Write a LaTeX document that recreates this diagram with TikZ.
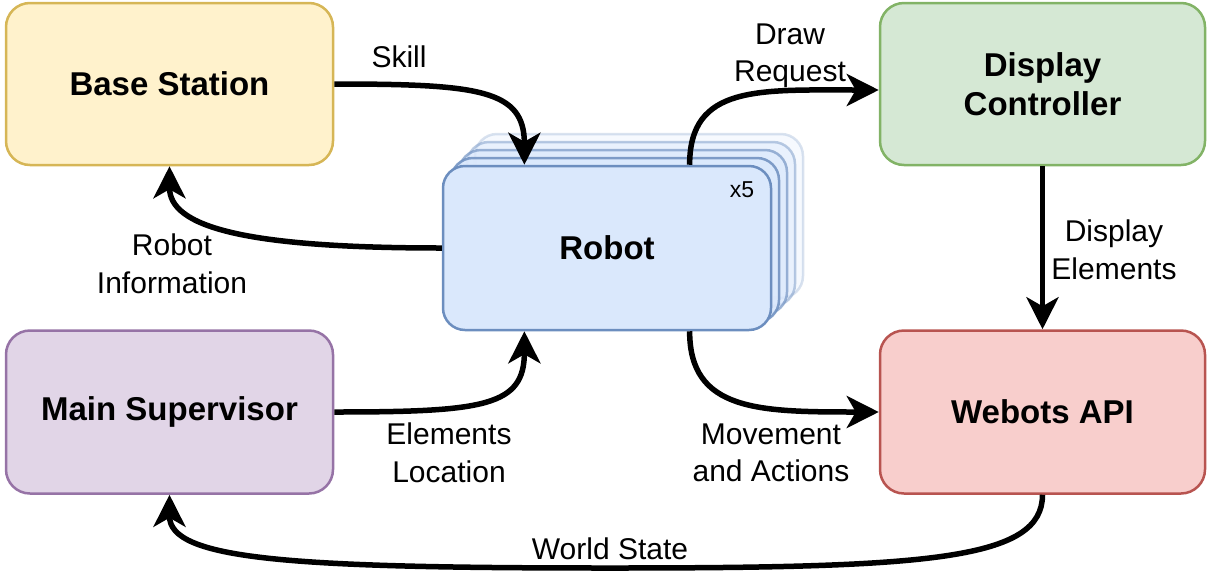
\documentclass[tikz,border=0pt]{standalone}
\usepackage{fontspec}
\setmainfont{Liberation Sans}
\usetikzlibrary{arrows.meta,calc}

\definecolor{bsfill}{HTML}{FFF2CC}\definecolor{bsline}{HTML}{D6B656}
\definecolor{dcfill}{HTML}{D5E8D4}\definecolor{dcline}{HTML}{82B366}
\definecolor{msfill}{HTML}{E1D5E7}\definecolor{msline}{HTML}{9673A6}
\definecolor{wafill}{HTML}{F8CECC}\definecolor{waline}{HTML}{B85450}
\definecolor{rbfill}{HTML}{DAE8FC}\definecolor{rbline}{HTML}{6C8EBF}

\tikzset{
  box/.style={draw, line width=2.5pt, rounded corners=24pt, align=center,
    font=\bfseries\fontsize{33}{39}\selectfont, inner sep=0pt},
  lbl/.style={align=center, font=\fontsize{30}{37.5}\selectfont, inner sep=0pt},
  flow/.style={line width=5.5pt,
    -{Stealth[length=32pt, width=32pt, inset=9pt]}},
}

\begin{document}
\begin{tikzpicture}[x=1pt, y=-1pt]
\useasboundingbox (0,0) rectangle (1208,574);

% outer components
\node[box, fill=bsfill, draw=bsline, minimum width=327pt, minimum height=162pt]
  (bs) at (169.5,84) {Base Station};
\node[box, fill=dcfill, draw=dcline, minimum width=325pt, minimum height=162pt]
  (dc) at (1042.5,84) {Display\\Controller};
\node[box, fill=msfill, draw=msline, minimum width=327pt, minimum height=163pt]
  (ms) at (169.5,412) {Main Supervisor};
\node[box, fill=wafill, draw=waline, minimum width=325pt, minimum height=163pt]
  (wa) at (1042.5,412) {Webots API};

% stacked robot instances behind the front one
\foreach \k/\op in {4/0.25,3/0.45,2/0.65,1/0.85}{
  \draw[line width=2.5pt, rounded corners=22pt, draw=rbline, fill=rbfill, opacity=\op]
    (443+8*\k,166-8*\k) rectangle (771+8*\k,330-8*\k);
}
\node[box, fill=rbfill, draw=rbline, rounded corners=22pt,
  minimum width=328pt, minimum height=164pt] (robot) at (607,248) {Robot};
\node[lbl, font=\fontsize{23}{27}\selectfont] (count) at (742,190) {x5};

% attachment points on the robot
\coordinate (rn1) at ($(robot.north west)!0.25!(robot.north east)$);
\coordinate (rn3) at ($(robot.north west)!0.75!(robot.north east)$);
\coordinate (rs1) at ($(robot.south west)!0.25!(robot.south east)$);
\coordinate (rs3) at ($(robot.south west)!0.75!(robot.south east)$);
\coordinate (dcin) at ($(dc.west)+(0,6)$);
\coordinate (wsmid) at (610,568);

% connectors
\draw[flow] (bs.east) .. controls +(145,0) and +(0,-75) .. (rn1);
\draw[flow] (robot.west) .. controls +(-200,0) and +(0,60) .. (bs.south);
\draw[flow] (ms.east) .. controls +(150,0) and +(0,75) .. (rs1);
\draw[flow] (rn3) .. controls +(0,-80) and +(-120,0) .. (dcin);
\draw[flow] (rs3) .. controls +(0,80) and +(-120,0) .. (wa.west);
\draw[flow] (dc.south) -- (wa.north);
\draw[flow] (wa.south) .. controls +(0,65) and +(320,0) .. (wsmid)
  .. controls +(-320,0) and +(0,65) .. (ms.south);

% connector labels
\node[lbl] (lskill) at (399,57) {Skill};
\node[lbl] (linfo) at (172,264) {Robot\\Information};
\node[lbl] (lloc) at (449,453) {Elements\\Location};
\node[lbl] (ldraw) at (790,56) {Draw\\Request};
\node[lbl] (ldisp) at (1114,250) {Display\\Elements};
\node[lbl] (lmove) at (771,453) {Movement\\and Actions};
\node[lbl] (lworld) at (610,549) {World State};
\end{tikzpicture}
\end{document}
